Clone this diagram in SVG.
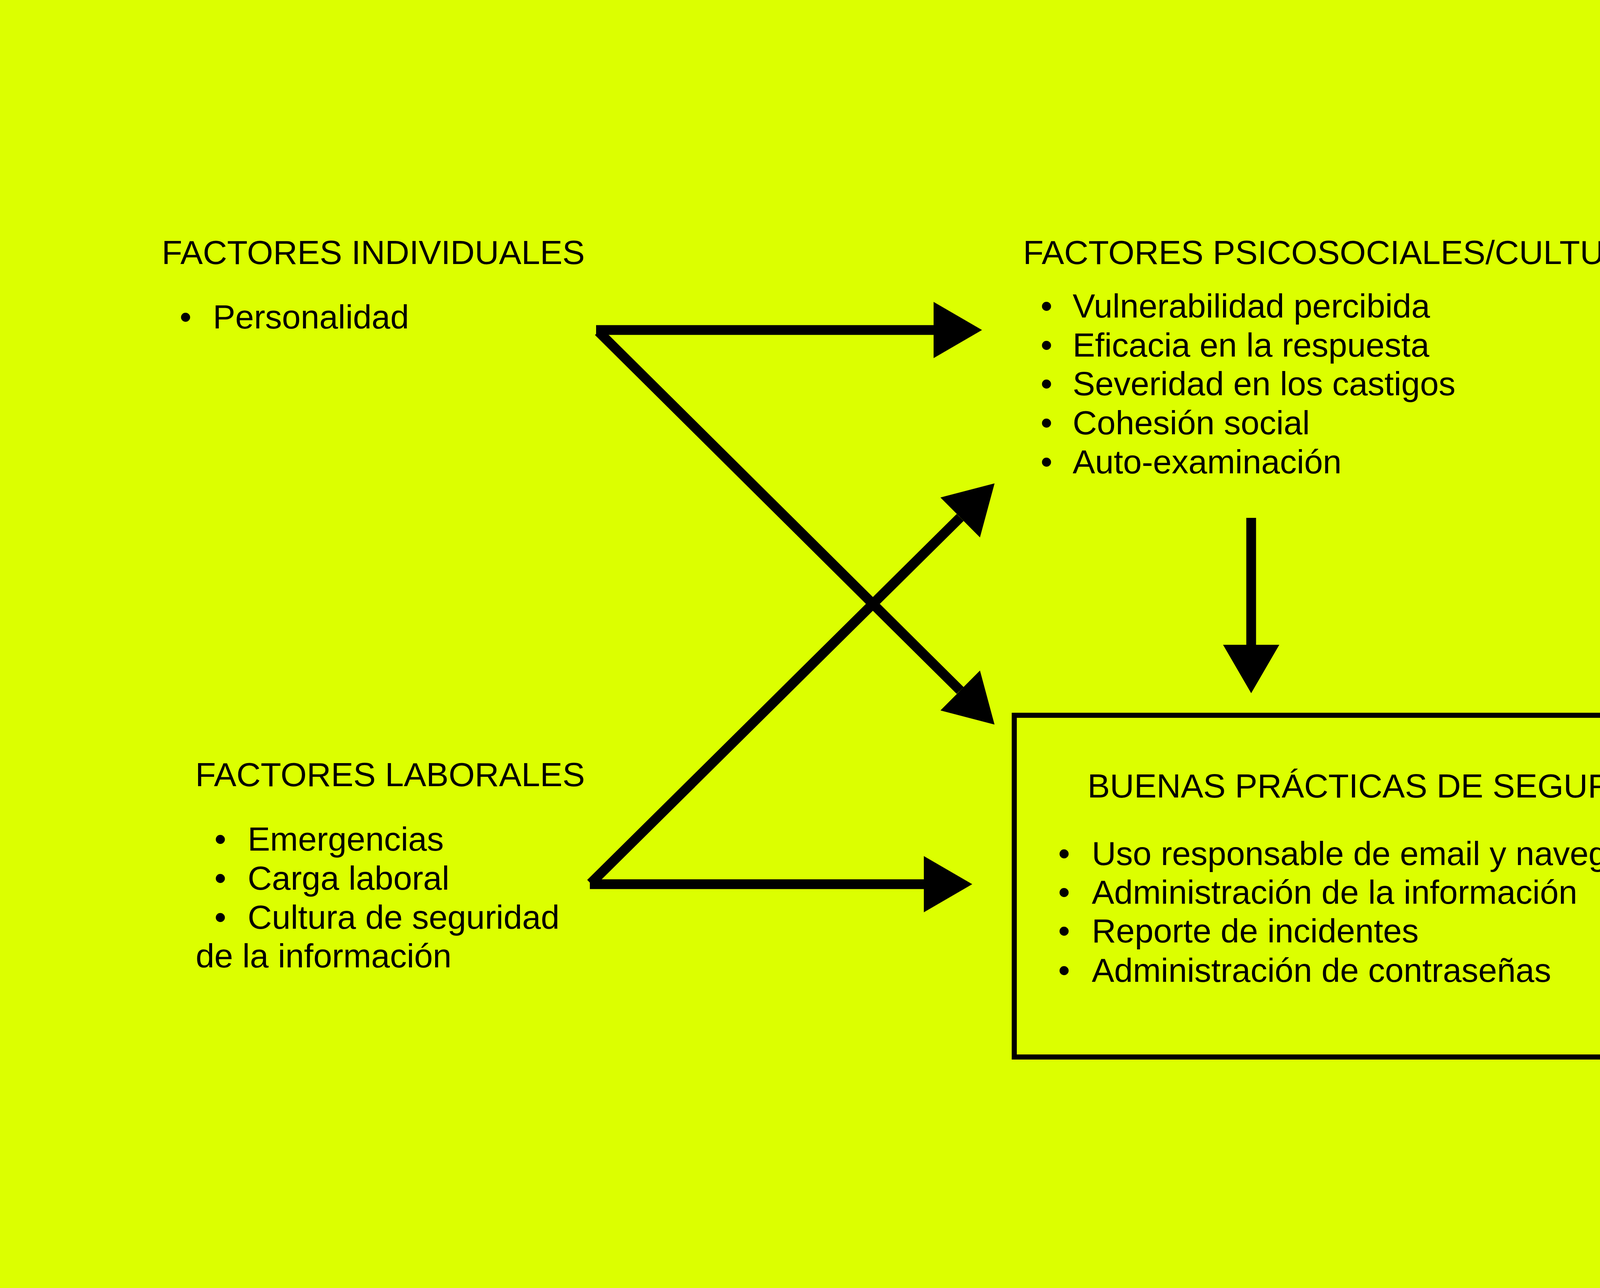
<svg xmlns="http://www.w3.org/2000/svg" width="6833" height="3298" viewBox="0 0 6833 3298">
<style>
text{font-family:"Liberation Sans",Arial,sans-serif;font-size:86px;fill:#000}
.b{text-anchor:middle}
.conn{stroke:#000;stroke-width:25;fill:none;stroke-linecap:butt}
</style>
<defs>
<marker id="ah" viewBox="0 0 124 144" refX="0" refY="72" markerWidth="124" markerHeight="144" markerUnits="userSpaceOnUse" orient="auto">
<path d="M0,0 L124,72 L0,144 Z" fill="#000"/>
</marker>
</defs>
<rect width="6833" height="3298" fill="#dcff00"/>
<g id="individuales">
<text x="414" y="676">FACTORES INDIVIDUALES</text>
<text class="b" x="475" y="841">•</text>
<text x="545" y="841">Personalidad</text>
</g>
<g id="psicosociales">
<text x="2619" y="676">FACTORES PSICOSOCIALES/CULTURALES</text>
<text class="b" x="2679" y="813">•</text><text x="2746" y="813">Vulnerabilidad percibida</text>
<text class="b" x="2679" y="913">•</text><text x="2746" y="913">Eficacia en la respuesta</text>
<text class="b" x="2679" y="1012">•</text><text x="2746" y="1012">Severidad en los castigos</text>
<text class="b" x="2679" y="1112">•</text><text x="2746" y="1112">Cohesión social</text>
<text class="b" x="2679" y="1212">•</text><text x="2746" y="1212">Auto-examinación</text>
</g>
<g id="laborales">
<text x="500" y="2013">FACTORES LABORALES</text>
<text class="b" x="564" y="2178">•</text><text x="634" y="2178">Emergencias</text>
<text class="b" x="564" y="2278">•</text><text x="634" y="2278">Carga laboral</text>
<text class="b" x="564" y="2378">•</text><text x="634" y="2378">Cultura de seguridad</text>
<text x="501" y="2477">de la información</text>
</g>
<g id="buenas-practicas">
<rect x="2596.5" y="1831.5" width="2005" height="875" fill="none" stroke="#000" stroke-width="13"/>
<text x="2784" y="2042">BUENAS PRÁCTICAS DE SEGURIDAD</text>
<text class="b" x="2724" y="2215">•</text><text x="2795" y="2215">Uso responsable de email y navegadores</text>
<text class="b" x="2724" y="2314">•</text><text x="2795" y="2314">Administración de la información</text>
<text class="b" x="2724" y="2413">•</text><text x="2795" y="2413">Reporte de incidentes</text>
<text class="b" x="2724" y="2514">•</text><text x="2795" y="2514">Administración de contraseñas</text>
</g>
<g id="conducta">
<polygon points="5399,1966 5933,2272 5399,2582" fill="#000"/>
<text x="5053" y="1913">CONOCIMIENTO</text>
<text x="6020" y="2300">CONDUCTA</text>
<text x="5224" y="2710">ACTITUD</text>
</g>
<g id="connectors">
<line class="conn" x1="1526" y1="845" x2="2390" y2="845" marker-end="url(#ah)"/>
<line class="conn" x1="1532" y1="849" x2="2458" y2="1768" marker-end="url(#ah)"/>
<line class="conn" x1="1512" y1="2262" x2="2458" y2="1325" marker-end="url(#ah)"/>
<line class="conn" x1="1510" y1="2264" x2="2365" y2="2264" marker-end="url(#ah)"/>
<line class="conn" x1="3203" y1="1326" x2="3203" y2="1651" marker-end="url(#ah)"/>
<line class="conn" x1="4691" y1="2285" x2="5015" y2="2285" marker-end="url(#ah)"/>
</g>
</svg>
